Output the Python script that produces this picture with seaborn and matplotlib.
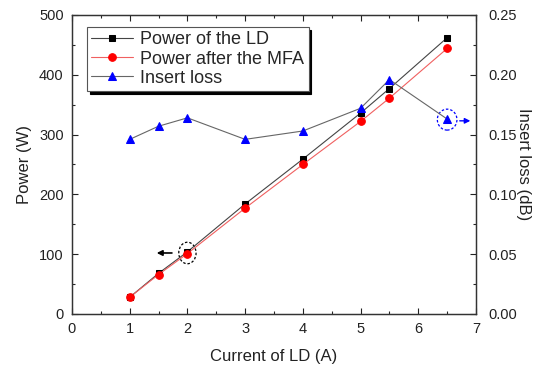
import matplotlib
matplotlib.use("Agg")
import matplotlib.pyplot as plt
from matplotlib.patches import Ellipse
from matplotlib.ticker import MultipleLocator
import seaborn as sns
import pandas as pd

current = [1, 1.5, 2, 3, 4, 5, 5.5, 6.5]
power_ld = [28, 68, 104, 184, 259, 336, 377, 462]
power_mfa = [28, 66, 101, 177, 250, 322, 361, 444]
insert_loss = [0.146, 0.157, 0.164, 0.146, 0.153, 0.172, 0.196, 0.163]

sns.set_style("ticks")
plt.rcParams['font.family'] = ['Liberation Sans', 'DejaVu Sans']
plt.rcParams['xtick.direction'] = 'in'
plt.rcParams['ytick.direction'] = 'in'

df = pd.DataFrame({"current": current, "ld": power_ld, "mfa": power_mfa, "loss": insert_loss})

fig = plt.figure(figsize=(5.47, 3.70), dpi=100)
ax = fig.add_axes([0.1316, 0.1514, 0.7386, 0.8081])
ax2 = ax.twinx()

sns.lineplot(data=df, x="current", y="ld", ax=ax, color="#444444", lw=0.8,
             marker="s", markersize=4.8, markerfacecolor="black", markeredgecolor="black",
             label="Power of the LD", legend=False)
sns.lineplot(data=df, x="current", y="mfa", ax=ax, color="#f06060", lw=0.8,
             marker="o", markersize=5.5, markerfacecolor="red", markeredgecolor="red",
             label="Power after the MFA", legend=False)
sns.lineplot(data=df, x="current", y="loss", ax=ax2, color="#666666", lw=0.8,
             marker="^", markersize=6, markerfacecolor="blue", markeredgecolor="blue",
             label="Insert loss", legend=False)

ax.set_xlim(0, 7)
ax.set_ylim(0, 500)
ax2.set_ylim(0, 0.25)
ax.xaxis.set_major_locator(MultipleLocator(1))
ax.xaxis.set_minor_locator(MultipleLocator(0.5))
ax.yaxis.set_major_locator(MultipleLocator(100))
ax.yaxis.set_minor_locator(MultipleLocator(50))
ax2.yaxis.set_major_locator(MultipleLocator(0.05))
ax2.yaxis.set_minor_locator(MultipleLocator(0.025))
ax2.yaxis.set_major_formatter(matplotlib.ticker.FormatStrFormatter('%.2f'))

for a in (ax, ax2):
    for s in a.spines.values():
        s.set_visible(True)
        s.set_linewidth(0.9)
        s.set_color("#333333")
    a.tick_params(which="major", length=4, width=0.8, labelsize=10.5, colors="#222222", pad=6)
    a.tick_params(which="minor", length=2.5, width=0.8)
ax.tick_params(axis="x", which="both", top=True)
ax.tick_params(axis="y", which="both", right=False)
ax2.tick_params(axis="y", pad=9)

ax.set_xlabel("Current of LD (A)", fontsize=12, color="#222222", labelpad=9)
ax.set_ylabel("Power (W)", fontsize=12, color="#222222", labelpad=5)
ax2.set_ylabel("Insert loss (dB)", fontsize=12, rotation=270, labelpad=10, color="#222222")

# annotations
ax.add_patch(Ellipse((2, 102), 0.3, 36, fill=False, ls=(0, (2, 1.5)), lw=0.9, ec="black"))
ax.annotate("", xy=(1.42, 102), xytext=(1.78, 102),
            arrowprops=dict(arrowstyle="-|>", color="black", lw=1.2, mutation_scale=8))
ax2.add_patch(Ellipse((6.5, 0.1625), 0.34, 0.0175, fill=False, ls=(0, (2, 1.5)), lw=0.9, ec="blue"))
ax2.annotate("", xy=(6.95, 0.1615), xytext=(6.67, 0.1615),
             arrowprops=dict(arrowstyle="-|>", color="blue", lw=1.0, mutation_scale=8))

h1, l1 = ax.get_legend_handles_labels()
h2, l2 = ax2.get_legend_handles_labels()
leg = ax2.legend(h1 + h2, l1 + l2, loc="upper left", bbox_to_anchor=(0.037, 0.96),
                 fontsize=13, frameon=True, fancybox=False, shadow={"color": "black", "alpha": 1},
                 handlelength=2.3, handletextpad=0.4, borderpad=0.25, labelspacing=0.12,
                 borderaxespad=0)
leg.get_frame().set_edgecolor("#555555")
leg.get_frame().set_linewidth(0.8)
leg.get_frame().set_alpha(1)

fig.savefig("out.png", dpi=100)
